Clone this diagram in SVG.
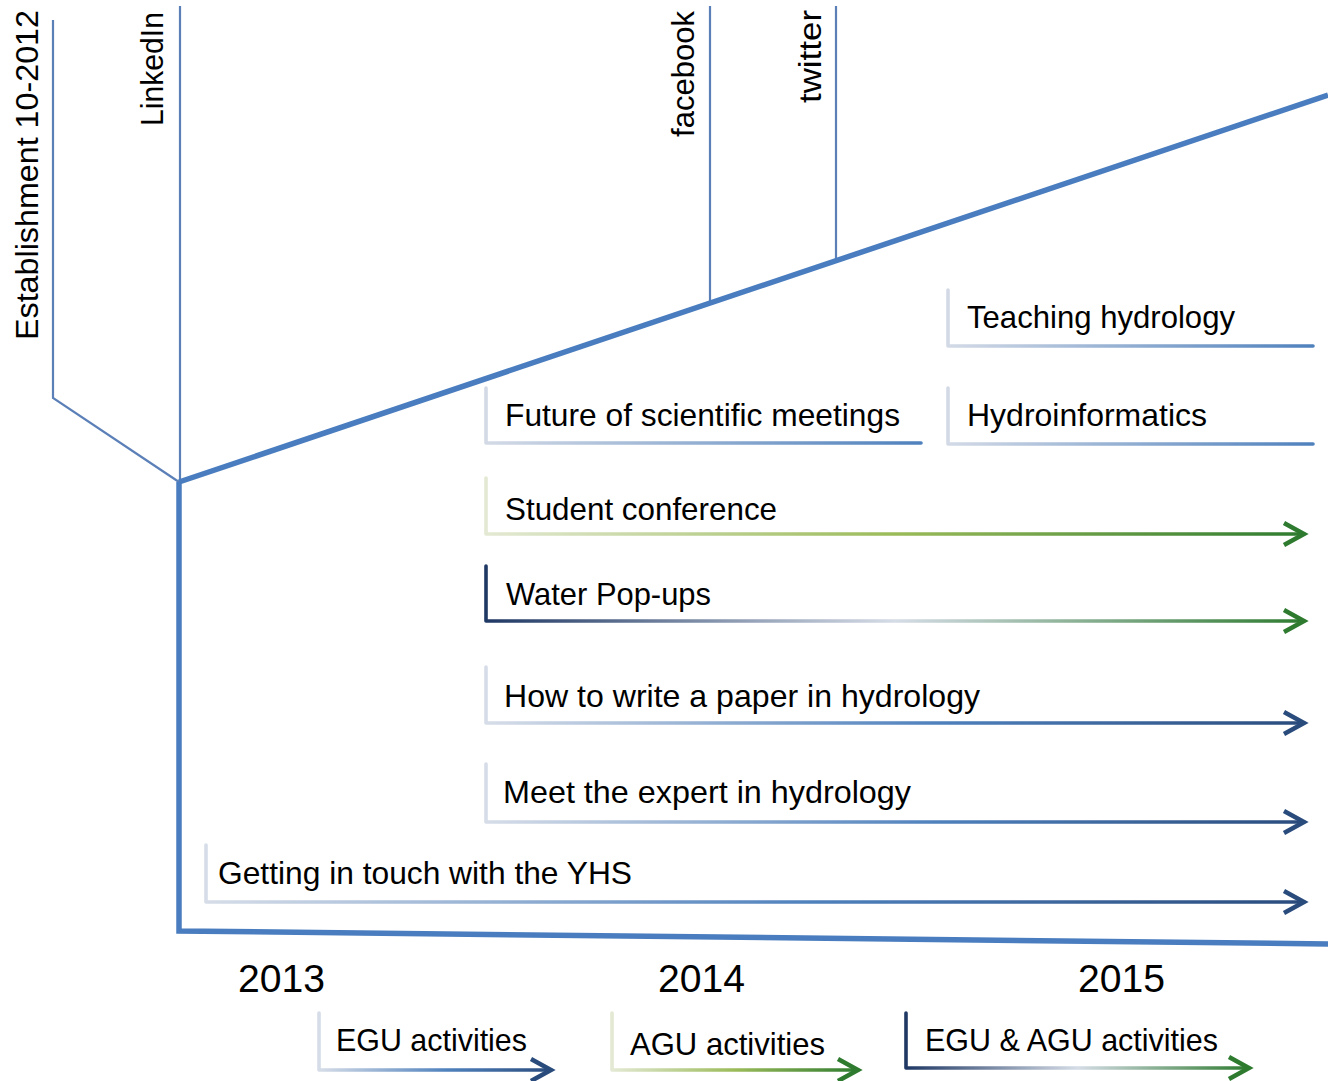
<svg xmlns="http://www.w3.org/2000/svg" width="1328" height="1081" viewBox="0 0 1328 1081">
<style>
  .t { font-family: "Liberation Sans", Arial, sans-serif; font-size: 32px; fill: #000; }
  .yr { font-family: "Liberation Sans", Arial, sans-serif; font-size: 39px; fill: #000; }
  .thick { stroke: #4a7dbf; stroke-width: 5.5; fill: none; stroke-linejoin: miter; }
  .thin { stroke: #5b80b8; stroke-width: 2.2; fill: none; }
  .br { fill: none; stroke-width: 3.6; stroke-linecap: round; stroke-linejoin: round; }
</style>
<defs>
  <linearGradient id="gBlue" x1="0" y1="0" x2="1" y2="0">
    <stop offset="0" stop-color="#d3dae6"/>
    <stop offset="1" stop-color="#4f81bd"/>
  </linearGradient>
  <linearGradient id="gDark" x1="0" y1="0" x2="1" y2="0">
    <stop offset="0" stop-color="#d6dde8"/>
    <stop offset="0.55" stop-color="#4f81bd"/>
    <stop offset="1" stop-color="#2a4c7d"/>
  </linearGradient>
  <linearGradient id="gGreen" x1="0" y1="0" x2="1" y2="0">
    <stop offset="0" stop-color="#e3e9d3"/>
    <stop offset="0.5" stop-color="#9bbb59"/>
    <stop offset="1" stop-color="#2e7b30"/>
  </linearGradient>
  <linearGradient id="gMix" x1="0" y1="0" x2="1" y2="0">
    <stop offset="0" stop-color="#1f3864"/>
    <stop offset="0.5" stop-color="#d5dce6"/>
    <stop offset="1" stop-color="#2e7b30"/>
  </linearGradient>
  <marker id="aGreen" markerUnits="userSpaceOnUse" viewBox="-26 -16 32 32" markerWidth="32" markerHeight="32" refX="0" refY="0" orient="auto">
    <path d="M-20,-11 L0,0 L-20,11" fill="none" stroke="#2e7b30" stroke-width="4.5"/>
  </marker>
  <marker id="aBlue" markerUnits="userSpaceOnUse" viewBox="-26 -16 32 32" markerWidth="32" markerHeight="32" refX="0" refY="0" orient="auto">
    <path d="M-20,-11 L0,0 L-20,11" fill="none" stroke="#2a4c7d" stroke-width="4.5"/>
  </marker>
</defs>

<g id="connectors">
  <path class="thin" d="M53,20 L53,398 L179,482"/>
  <line class="thin" x1="180" y1="6" x2="180" y2="482"/>
  <line class="thin" x1="710" y1="6" x2="710" y2="303"/>
  <line class="thin" x1="836" y1="6" x2="836" y2="261"/>
  <line class="thick" x1="179" y1="482" x2="1328" y2="95"/>
  <path class="thick" d="M179,482 L179,931 L1328,944" stroke-width="6"/>
</g>

<g id="establishment">
  <text class="t" transform="translate(38,340) rotate(-90)" textLength="330" lengthAdjust="spacingAndGlyphs">Establishment  10-2012</text>
</g>
<g id="linkedin">
  <text class="t" transform="translate(163,126) rotate(-90)" textLength="114" lengthAdjust="spacingAndGlyphs">LinkedIn</text>
</g>
<g id="facebook">
  <text class="t" transform="translate(694,137) rotate(-90)" textLength="126" lengthAdjust="spacingAndGlyphs">facebook</text>
</g>
<g id="twitter">
  <text class="t" transform="translate(821,103) rotate(-90)" textLength="93" lengthAdjust="spacingAndGlyphs">twitter</text>
</g>

<g id="teaching">
  <path class="br" stroke="url(#gBlue)" d="M948,290 L948,346 L1313,346"/>
  <text class="t" x="967" y="328" textLength="268" lengthAdjust="spacingAndGlyphs">Teaching hydrology</text>
</g>
<g id="hydroinformatics">
  <path class="br" stroke="url(#gBlue)" d="M948,388 L948,444 L1313,444"/>
  <text class="t" x="967" y="426" textLength="240" lengthAdjust="spacingAndGlyphs">Hydroinformatics</text>
</g>
<g id="future">
  <path class="br" stroke="url(#gBlue)" d="M486,388 L486,443 L921,443"/>
  <text class="t" x="505" y="426" textLength="395" lengthAdjust="spacingAndGlyphs">Future of scientific meetings</text>
</g>
<g id="student">
  <path class="br" stroke="url(#gGreen)" d="M486,478 L486,534 L1304,534" marker-end="url(#aGreen)"/>
  <text class="t" x="505" y="520" textLength="272" lengthAdjust="spacingAndGlyphs">Student conference</text>
</g>
<g id="popups">
  <path class="br" stroke="url(#gMix)" d="M486,566 L486,621 L1304,621" marker-end="url(#aGreen)"/>
  <text class="t" x="506" y="605" textLength="205" lengthAdjust="spacingAndGlyphs">Water Pop-ups</text>
</g>
<g id="paper">
  <path class="br" stroke="url(#gDark)" d="M486,667 L486,723 L1304,723" marker-end="url(#aBlue)"/>
  <text class="t" x="504" y="707" textLength="476" lengthAdjust="spacingAndGlyphs">How to write a paper in hydrology</text>
</g>
<g id="expert">
  <path class="br" stroke="url(#gDark)" d="M486,764 L486,822 L1304,822" marker-end="url(#aBlue)"/>
  <text class="t" x="503" y="803" textLength="408" lengthAdjust="spacingAndGlyphs">Meet the expert in hydrology</text>
</g>
<g id="touch">
  <path class="br" stroke="url(#gDark)" d="M206,845 L206,902 L1304,902" marker-end="url(#aBlue)"/>
  <text class="t" x="218" y="884" textLength="414" lengthAdjust="spacingAndGlyphs">Getting in touch with the YHS</text>
</g>

<g id="y2013"><text class="yr" x="238" y="992" textLength="87" lengthAdjust="spacingAndGlyphs">2013</text></g>
<g id="y2014"><text class="yr" x="658" y="992" textLength="87" lengthAdjust="spacingAndGlyphs">2014</text></g>
<g id="y2015"><text class="yr" x="1078" y="992" textLength="87" lengthAdjust="spacingAndGlyphs">2015</text></g>

<g id="egu">
  <path class="br" stroke="url(#gDark)" d="M319,1013 L319,1070 L551,1070" marker-end="url(#aBlue)"/>
  <text class="t" x="336" y="1051" textLength="191" lengthAdjust="spacingAndGlyphs">EGU activities</text>
</g>
<g id="agu">
  <path class="br" stroke="url(#gGreen)" d="M612,1013 L612,1070 L858,1070" marker-end="url(#aGreen)"/>
  <text class="t" x="630" y="1055" textLength="195" lengthAdjust="spacingAndGlyphs">AGU activities</text>
</g>
<g id="egu-agu">
  <path class="br" stroke="url(#gMix)" d="M906,1013 L906,1068 L1249,1068" marker-end="url(#aGreen)"/>
  <text class="t" x="925" y="1051" textLength="293" lengthAdjust="spacingAndGlyphs">EGU &amp; AGU activities</text>
</g>
</svg>
